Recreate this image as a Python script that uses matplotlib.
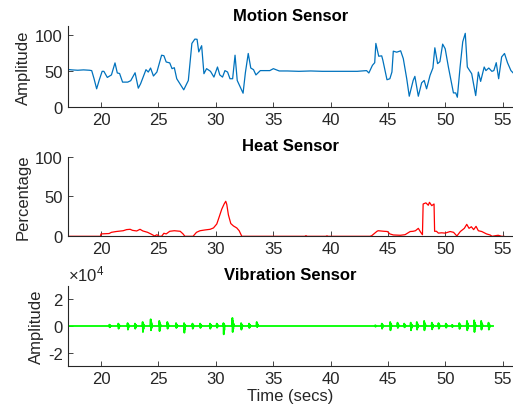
import matplotlib
matplotlib.use("Agg")
import matplotlib.pyplot as plt

plt.rcParams['font.family'] = ['Liberation Sans', 'DejaVu Sans']
plt.rcParams['mathtext.fontset'] = 'custom'
plt.rcParams['mathtext.rm'] = 'Liberation Sans'
plt.rcParams['mathtext.it'] = 'Liberation Sans'

# ---- Motion sensor (time, amplitude) ----
motion_t = [17.06, 17.46, 17.97, 18.48, 18.99, 19.19, 19.39, 19.62, 19.85, 20.10, 20.25, 20.55,
            20.91, 21.22, 21.42, 21.62, 21.88, 22.33, 22.59, 22.97, 23.25, 23.45, 23.92, 24.12,
            24.32, 24.57, 24.87, 25.28, 25.48, 25.68, 25.99, 26.19, 26.39, 26.60, 27.21, 27.61,
            27.92, 28.18, 28.37, 28.52, 28.77, 28.97, 29.20, 29.54, 29.84, 30.15, 30.35, 30.59,
            30.80, 31.03, 31.24, 31.47, 31.68, 31.87, 32.38, 32.58, 32.83, 33.05, 33.29, 33.50,
            33.88, 34.71, 35.02, 35.53, 36.24, 37.25, 38.27, 39.28, 40.30, 41.31, 42.33, 43.14,
            43.34, 43.65, 43.85, 43.95, 44.20, 44.46, 44.56, 44.92, 45.17, 45.35, 45.47, 45.77,
            46.11, 46.34, 46.64, 46.86, 47.20, 47.35, 47.65, 47.94, 48.16, 48.37, 48.67, 48.92,
            49.09, 49.33, 49.53, 49.77, 49.99, 50.27, 50.71, 50.91, 51.05, 51.29, 51.52, 51.74,
            51.92, 52.30, 52.65, 52.88, 53.08, 53.39, 53.54, 53.79, 54.06, 54.23, 54.44, 54.65,
            54.91, 55.16, 55.42, 55.72, 55.90]
motion_v = [52.7, 52.0, 51.5, 52.0, 51.5, 51.0, 40.0, 25.7, 38.0, 50.0, 50.0, 41.5,
            45.0, 61.7, 47.7, 47.0, 35.0, 35.0, 37.0, 48.0, 26.6, 32.7, 52.3, 49.0,
            54.6, 43.5, 49.0, 72.4, 71.7, 63.0, 61.7, 53.7, 55.0, 39.7, 24.3, 37.3,
            88.8, 94.8, 94.5, 77.0, 85.6, 46.7, 53.7, 50.0, 42.0, 56.0, 45.0, 42.0,
            51.0, 49.0, 39.7, 39.7, 72.4, 37.3, 19.6, 48.0, 74.8, 54.6, 52.3, 45.0,
            51.0, 51.0, 53.7, 50.5, 50.5, 50.0, 50.5, 50.0, 50.0, 50.0, 50.0, 51.0,
            47.7, 58.3, 62.0, 88.8, 71.0, 71.5, 65.4, 38.3, 39.7, 49.0, 78.0, 76.6,
            78.5, 67.7, 39.7, 15.4, 37.3, 43.0, 15.4, 34.0, 37.3, 25.7, 44.3, 54.6,
            82.7, 60.7, 63.4, 87.8, 81.4, 56.0, 20.0, 20.0, 14.0, 56.0, 91.0, 102.8,
            56.0, 46.7, 16.3, 49.0, 36.0, 56.0, 51.0, 54.6, 50.0, 51.0, 62.0, 39.7,
            70.0, 74.8, 62.0, 51.0, 48.0]

# ---- Heat sensor (time, percentage) ----
heat_t = [17.06, 19.95, 20.00, 20.71, 20.91, 21.32, 21.93, 22.23, 22.54, 22.74, 23.11, 23.40,
          23.65, 24.06, 24.41, 24.67, 24.87, 25.07, 25.28, 25.48, 25.68, 25.99, 26.39, 26.90,
          27.15, 27.31, 28.02, 28.32, 28.63, 29.07, 29.51, 29.80, 30.09, 30.29, 30.52, 30.73,
          30.87, 30.96, 31.10, 31.31, 31.54, 31.83, 32.04, 32.27, 37.76, 37.86, 37.96, 39.59,
          39.69, 39.79, 43.44, 43.59, 44.05, 44.15, 44.66, 44.96, 45.17, 45.47, 46.08, 46.49,
          46.94, 47.20, 47.40, 47.65, 47.86, 48.01, 48.07, 48.31, 48.52, 48.62, 48.82, 49.02,
          49.07, 49.23, 49.40, 49.68, 49.99, 50.42, 50.72, 51.01, 51.31, 51.66, 51.87, 52.07,
          52.27, 52.47, 52.68, 52.88, 53.18, 53.59, 53.90, 54.08, 54.38, 54.61, 54.91, 55.11]
heat_v = [0, 0, 3.0, 3.5, 5.0, 6.0, 7.0, 8.4, 8.8, 7.5, 6.7, 8.8,
          6.7, 5.0, 2.5, 0.4, 2.0, 0, 0, 3.8, 3.0, 6.3, 7.0, 6.3,
          3.0, 0, 0, 5.0, 7.0, 8.0, 8.8, 10.5, 15.5, 24.0, 34.0, 40.6,
          44.0, 40.0, 27.0, 16.0, 13.0, 10.5, 7.0, 0, 0, 0.8, 0, 0,
          0.6, 0, 0, 0.8, 6.3, 7.0, 6.3, 6.0, 3.0, 1.7, 1.3, 2.0,
          6.0, 6.3, 7.0, 10.0, 5.0, 2.0, 40.6, 42.0, 39.0, 42.7, 38.5, 40.6,
          6.3, 6.3, 4.0, 4.4, 4.0, 6.0, 5.0, 0.4, 6.0, 10.0, 15.0, 10.0,
          12.0, 8.4, 12.5, 7.0, 6.0, 3.0, 1.7, 0, 0.8, 1.3, 0, 0]

# ---- Vibration sensor: burst times and peak up / down amplitudes (x1e4) ----
vib_start, vib_end = 17.1, 54.16
burst_t = [20.73, 21.51, 22.32, 22.96, 23.63, 24.33, 25.08, 25.78, 26.54, 27.24, 27.97, 28.64,
           29.50, 30.09, 30.67, 31.45, 32.21, 32.90, 33.57, 43.89, 44.47, 45.20, 45.84, 46.42,
           46.99, 47.52, 48.16, 48.83, 49.41, 50.05, 50.58, 51.22, 51.89, 52.52, 53.13, 53.77]
burst_up = [0.1, 0.18, 0.22, 0.18, 0.3, 0.5, 0.38, 0.3, 0.22, 0.22, 0.18, 0.18,
            0.18, 0.18, 0.22, 0.6, 0.22, 0.18, 0.3, 0.05, 0.18, 0.3, 0.25, 0.18,
            0.25, 0.3, 0.38, 0.25, 0.22, 0.18, 0.08, 0.22, 0.38, 0.42, 0.38, 0.25]
burst_down = [0.1, 0.2, 0.27, 0.2, 0.45, 0.32, 0.38, 0.2, 0.15, 0.5, 0.2, 0.15,
              0.2, 0.13, 0.62, 0.45, 0.27, 0.15, 0.08, 0.05, 0.2, 0.32, 0.15, 0.1,
              0.32, 0.27, 0.32, 0.25, 0.2, 0.13, 0.08, 0.22, 0.32, 0.45, 0.27, 0.27]

vt = [vib_start]
vv = [0.0]
for t, u, d in zip(burst_t, burst_up, burst_down):
    vt += [t - 0.04, t - 0.02, t, t + 0.025, t + 0.05, t + 0.075, t + 0.1, t + 0.13]
    vv += [0.0, 0.4 * u * 1e4, u * 1e4, -d * 1e4, 0.6 * u * 1e4, -0.5 * d * 1e4,
           0.3 * u * 1e4, 0.0]
vt.append(vib_end)
vv.append(0.0)

fig = plt.figure(figsize=(5.13, 4.14), dpi=100)
axcol = '#262626'
fs = 12
xlim = (17.1, 55.9)
xticks = [20, 25, 30, 35, 40, 45, 50, 55]


def style(ax):
    for s in ['top', 'right']:
        ax.spines[s].set_visible(False)
    for s in ['left', 'bottom']:
        ax.spines[s].set_color(axcol)
        ax.spines[s].set_linewidth(0.8)
    ax.tick_params(direction='in', length=3.5, width=0.6, colors=axcol,
                   labelsize=fs, pad=3.5)
    ax.set_xlim(*xlim)
    ax.set_xticks(xticks)


left, width = 0.1320, 0.8680
ax1 = fig.add_axes([left, 0.7384, width, 0.1964])
ax1.plot(motion_t, motion_v, color='#0072BD', lw=0.9)
style(ax1)
ax1.set_ylim(0, 113)
ax1.set_yticks([0, 50, 100])
ax1.set_ylabel('Amplitude', fontsize=fs, color=axcol, labelpad=3)
ax1.set_title('Motion Sensor', fontsize=fs, fontweight='bold', pad=4.5)

ax2 = fig.add_axes([left, 0.4268, width, 0.1923])
ax2.plot(heat_t, heat_v, color='#FF0000', lw=0.9)
style(ax2)
ax2.set_ylim(0, 100)
ax2.set_yticks([0, 50, 100])
ax2.set_ylabel('Percentage', fontsize=fs, color=axcol, labelpad=3)
ax2.set_title('Heat Sensor', fontsize=fs, fontweight='bold', pad=4.5)

ax3 = fig.add_axes([left, 0.1128, width, 0.1947])
ax3.plot(vt, vv, color='#00FF00', lw=1.3)
style(ax3)
ax3.set_ylim(-3e4, 3e4)
ax3.set_yticks([-2e4, 0, 2e4])
ax3.set_yticklabels(['-2', '0', '2'])
ax3.set_ylabel('Amplitude', fontsize=fs, color=axcol, labelpad=3)
ax3.set_xlabel('Time (secs)', fontsize=fs, color=axcol, labelpad=1)
ax3.set_title('Vibration Sensor', fontsize=fs, fontweight='bold', pad=4.5)
ax3.text(0.0, 1.03, r'$\times10^{4}$', transform=ax3.transAxes, fontsize=fs,
         color=axcol, ha='left', va='bottom')

fig.savefig('out.png', dpi=100)
